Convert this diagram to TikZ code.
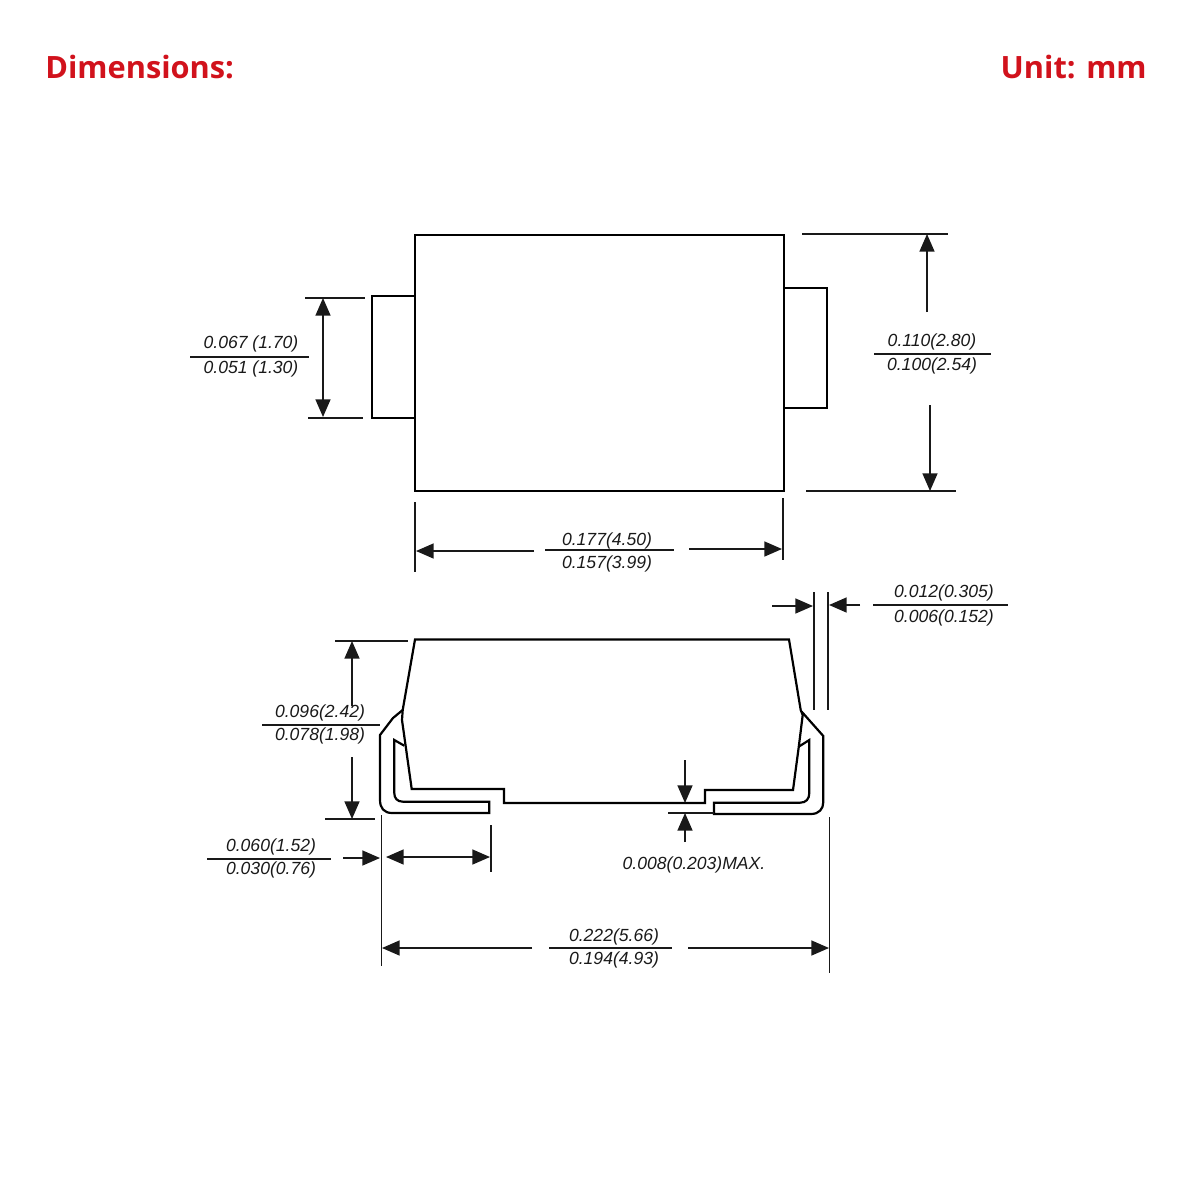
\documentclass[tikz,border=0pt]{standalone}
\usepackage{fontspec}
\setmainfont{Liberation Sans}
\newfontfamily\headfont{Open Sans}
\usetikzlibrary{arrows.meta}
\definecolor{headred}{rgb}{0.82,0.07,0.11}
\definecolor{inkgray}{rgb}{0.1,0.1,0.1}
\tikzset{
  outline/.style={draw=black, line width=1.25pt, line join=miter},
  extline/.style={draw=inkgray, line width=0.8pt},
  dimarrow/.style={draw=inkgray, line width=0.8pt, -{Triangle[length=10pt,width=8.5pt]}},
  dimtext/.style={inner sep=0pt, font=\itshape\fontsize{10}{12}\selectfont, text=inkgray},
  headtext/.style={inner sep=0pt, font=\headfont\bfseries\fontsize{17.5}{20}\selectfont, text=headred}
}

\begin{document}
\begin{tikzpicture}[x=0.02cm, y=-0.02cm]
\useasboundingbox (0,0) rectangle (1200,1200);

\node[headtext, anchor=west] (title) at (45,67) {Dimensions:};
\node[headtext, anchor=east] (unit) at (1147,67) {Unit: mm};

% top view
\begin{scope}
  \draw[outline] (415,235) rectangle (784,491);
  \draw[outline] (415,296) -- (372,296) -- (372,418) -- (415,418);
  \draw[outline] (785,288) -- (827,288) -- (827,408) -- (785,408);
\end{scope}

% side view
\begin{scope}
  \draw[outline] (415,639.5) -- (402.7,710) -- (402,720) -- (411.7,789) -- (504,789)
    -- (504,803) -- (705,803) -- (705,790) -- (793,790) -- (799,745) -- (802.7,715)
    -- (800.7,710) -- (789,639.5) -- cycle;
  \draw[outline] (402.7,710) -- (393,718) -- (380,735) -- (380,800)
    .. controls (380,808) and (384,813) .. (392,813)
    -- (489.3,813) -- (489.3,801.7) -- (403,801.7)
    .. controls (397,801.7) and (394.3,798) .. (394.3,793)
    -- (394.3,740) -- (404.3,745.7);
  \draw[outline] (801.7,711.7) -- (823.3,736) -- (823.3,802)
    .. controls (823.3,809) and (819,814) .. (811,814)
    -- (714,814) -- (714,802.7) -- (800,802.7)
    .. controls (806,802.7) and (809.3,799) .. (809.3,793)
    -- (809.3,740) -- (798.7,746.7);
\end{scope}

% height of left tab
\begin{scope}
  \coordinate (tabA) at (305,298);  \coordinate (tabB) at (365,298);
  \coordinate (tabC) at (308,418);  \coordinate (tabD) at (363,418);
  \coordinate (tabE) at (323,357);  \coordinate (tabF) at (323,298);
  \coordinate (tabG) at (323,417);  \coordinate (tabH) at (190,357);
  \coordinate (tabI) at (309,357);
  \draw[extline] (tabA) -- (tabB);
  \draw[extline] (tabC) -- (tabD);
  \draw[dimarrow, {Triangle[length=10pt,width=8.5pt]}-{Triangle[length=10pt,width=8.5pt]}] (tabF) -- (tabG);
  \draw[extline] (tabH) -- (tabI);
  \node[dimtext] (tabTop) at (251,344) {0.067 (1.70)};
  \node[dimtext] (tabBot) at (251,369) {0.051 (1.30)};
\end{scope}

% body height
\begin{scope}
  \coordinate (hgtA) at (802,234);  \coordinate (hgtB) at (948,234);
  \coordinate (hgtC) at (806,491);  \coordinate (hgtD) at (956,491);
  \coordinate (hgtE) at (927,312);  \coordinate (hgtF) at (927,234);
  \coordinate (hgtG) at (930,405);  \coordinate (hgtH) at (930,491);
  \coordinate (hgtI) at (874,354);  \coordinate (hgtJ) at (991,354);
  \draw[extline] (hgtA) -- (hgtB);
  \draw[extline] (hgtC) -- (hgtD);
  \draw[dimarrow] (hgtE) -- (hgtF);
  \draw[dimarrow] (hgtG) -- (hgtH);
  \draw[extline] (hgtI) -- (hgtJ);
  \node[dimtext] (hgtTop) at (932,342) {0.110(2.80)};
  \node[dimtext] (hgtBot) at (932,366) {0.100(2.54)};
\end{scope}

% body width
\begin{scope}
  \coordinate (wdtA) at (415,502);  \coordinate (wdtB) at (415,572);
  \coordinate (wdtC) at (783,498);  \coordinate (wdtD) at (783,560);
  \coordinate (wdtE) at (534,551);  \coordinate (wdtF) at (416,551);
  \coordinate (wdtG) at (689,549);  \coordinate (wdtH) at (782,549);
  \coordinate (wdtI) at (545,550);  \coordinate (wdtJ) at (674,550);
  \draw[extline] (wdtA) -- (wdtB);
  \draw[extline] (wdtC) -- (wdtD);
  \draw[dimarrow] (wdtE) -- (wdtF);
  \draw[dimarrow] (wdtG) -- (wdtH);
  \draw[extline] (wdtI) -- (wdtJ);
  \node[dimtext] (wdtTop) at (607,541) {0.177(4.50)};
  \node[dimtext] (wdtBot) at (607,564) {0.157(3.99)};
\end{scope}

% lead thickness
\begin{scope}
  \coordinate (thkA) at (814,592);  \coordinate (thkB) at (814,710);
  \coordinate (thkC) at (828,592);  \coordinate (thkD) at (828,710);
  \coordinate (thkE) at (772,606);  \coordinate (thkF) at (813,606);
  \coordinate (thkG) at (860,605);  \coordinate (thkH) at (829,605);
  \coordinate (thkI) at (873,605);  \coordinate (thkJ) at (1008,605);
  \draw[extline] (thkA) -- (thkB);
  \draw[extline] (thkC) -- (thkD);
  \draw[dimarrow] (thkE) -- (thkF);
  \draw[dimarrow] (thkG) -- (thkH);
  \draw[extline] (thkI) -- (thkJ);
  \node[dimtext] (thkTop) at (944,593) {0.012(0.305)};
  \node[dimtext] (thkBot) at (944,618) {0.006(0.152)};
\end{scope}

% overall height
\begin{scope}
  \coordinate (ovhA) at (335,641);  \coordinate (ovhB) at (408,641);
  \coordinate (ovhC) at (325,819);  \coordinate (ovhD) at (375,819);
  \coordinate (ovhE) at (352,706);  \coordinate (ovhF) at (352,641);
  \coordinate (ovhG) at (352,757);  \coordinate (ovhH) at (352,819);
  \coordinate (ovhI) at (262,725);  \coordinate (ovhJ) at (380,725);
  \draw[extline] (ovhA) -- (ovhB);
  \draw[extline] (ovhC) -- (ovhD);
  \draw[dimarrow] (ovhE) -- (ovhF);
  \draw[dimarrow] (ovhG) -- (ovhH);
  \draw[extline] (ovhI) -- (ovhJ);
  \node[dimtext] (ovhTop) at (320,713) {0.096(2.42)};
  \node[dimtext] (ovhBot) at (320,736) {0.078(1.98)};
\end{scope}

% lead length
\begin{scope}
  \coordinate (ledA) at (491,825);  \coordinate (ledB) at (491,872);
  \coordinate (ledC) at (343,858);  \coordinate (ledD) at (380,858);
  \coordinate (ledE) at (386,857);  \coordinate (ledF) at (490,857);
  \coordinate (ledG) at (207,859);  \coordinate (ledH) at (331,859);
  \draw[extline] (ledA) -- (ledB);
  \draw[dimarrow] (ledC) -- (ledD);
  \draw[dimarrow, {Triangle[length=10pt,width=8.5pt]}-{Triangle[length=10pt,width=8.5pt]}] (ledE) -- (ledF);
  \draw[extline] (ledG) -- (ledH);
  \node[dimtext] (ledTop) at (271,847) {0.060(1.52)};
  \node[dimtext] (ledBot) at (271,870) {0.030(0.76)};
\end{scope}

% standoff
\begin{scope}
  \coordinate (stoA) at (668,813);  \coordinate (stoB) at (714,813);
  \coordinate (stoC) at (685,760);  \coordinate (stoD) at (685,803);
  \coordinate (stoE) at (685,842);  \coordinate (stoF) at (685,813);
  \draw[extline] (stoA) -- (stoB);
  \draw[dimarrow] (stoC) -- (stoD);
  \draw[dimarrow] (stoE) -- (stoF);
  \node[dimtext] (stoTxt) at (694,865) {0.008(0.203)MAX.};
\end{scope}

% overall width
\begin{scope}
  \coordinate (ovwA) at (381.5,815);  \coordinate (ovwB) at (381.5,966);
  \coordinate (ovwC) at (829.5,817);  \coordinate (ovwD) at (829.5,973);
  \coordinate (ovwE) at (532,948);    \coordinate (ovwF) at (382,948);
  \coordinate (ovwG) at (688,948);    \coordinate (ovwH) at (829,948);
  \coordinate (ovwI) at (549,948);    \coordinate (ovwJ) at (672,948);
  \draw[extline] (ovwA) -- (ovwB);
  \draw[extline] (ovwC) -- (ovwD);
  \draw[dimarrow] (ovwE) -- (ovwF);
  \draw[dimarrow] (ovwG) -- (ovwH);
  \draw[extline] (ovwI) -- (ovwJ);
  \node[dimtext] (ovwTop) at (614,937) {0.222(5.66)};
  \node[dimtext] (ovwBot) at (614,960) {0.194(4.93)};
\end{scope}

\end{tikzpicture}
\end{document}
